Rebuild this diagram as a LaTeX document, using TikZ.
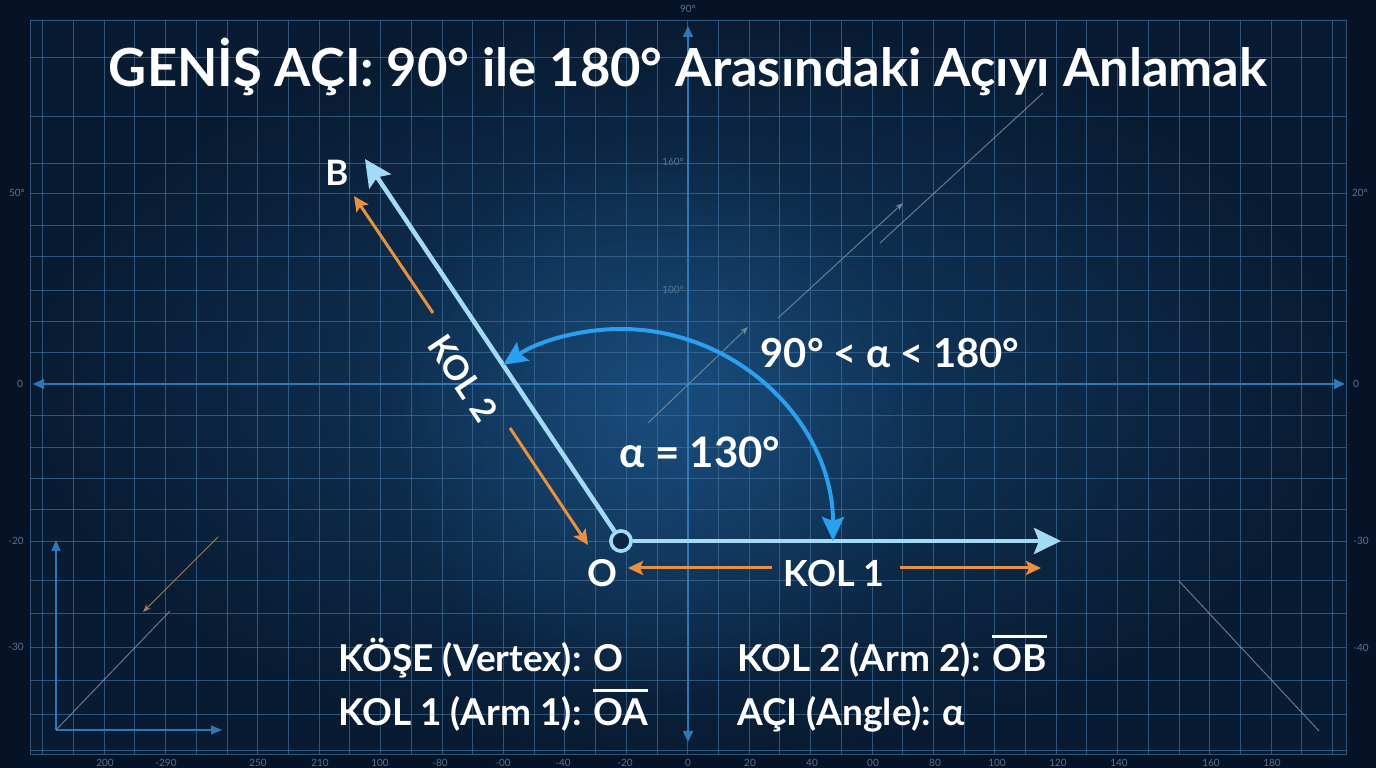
\documentclass[tikz,border=0pt]{standalone}
\usepackage{fontspec}
\setmainfont{Lato}
\usetikzlibrary{arrows.meta,fadings}
\definecolor{bgout}{HTML}{061326}
\definecolor{panelin}{HTML}{133C64}
\definecolor{panelout}{HTML}{081B32}
\definecolor{gridc}{HTML}{3F6F9C}
\definecolor{axisc}{HTML}{2F78B8}
\definecolor{armc}{HTML}{A3DAF5}
\definecolor{arcc}{HTML}{2AA0EE}
\definecolor{orangec}{HTML}{E8913F}
\definecolor{tickc}{HTML}{587590}
\definecolor{decoc}{HTML}{7C90A4}
\definecolor{decob}{HTML}{95806F}
\definecolor{glowc}{HTML}{2468A6}
\definecolor{vfill}{HTML}{0C2644}
\tikzfading[name=glowfade, inner color=transparent!60, outer color=transparent!100]
\newcommand{\ovl}[1]{\leavevmode\vbox{\hrule height 3pt\kern 7pt\hbox{#1}}}
\begin{document}
\begin{tikzpicture}[x=1pt,y=-1pt,shift={(0pt,768pt)},
  gridl/.style={draw=gridc, line width=0.9pt, opacity=0.7},
  axisl/.style={draw=axisc, line width=1.6pt},
  armline/.style={draw=armc, line width=4.5pt, -{Stealth[length=27pt,width=26pt,inset=5pt]}},
  orangel/.style={draw=orangec, line width=3pt, -{Stealth[length=15pt,width=14pt,inset=3pt]}},
  arcline/.style={draw=arcc, line width=4pt, {Stealth[length=24pt,width=22pt,inset=4pt]}-{Stealth[length=24pt,width=22pt,inset=4pt]}},
  decol/.style={draw=decoc, line width=1pt, opacity=0.8},
  ticklbl/.style={text=tickc, font=\fontsize{10}{12}\selectfont, inner sep=0pt},
  lbl/.style={text=white, inner sep=0pt, font=\bfseries\fontsize{#1}{#1}\selectfont},
  lbl/.default=37
]
\useasboundingbox (0,0) rectangle (1376,768);
% background
\fill[bgout] (0,0) rectangle (1376,768);
\shade[inner color=panelin, outer color=panelout] (30,20) rectangle (1346,754);
\fill[glowc, path fading=glowfade] (660,420) circle (280pt);
% grid
\foreach \k in {-21,...,21} \draw[gridl] ({687.7+30.71*\k},20) -- ({687.7+30.71*\k},754);
\foreach \yy in {57,116,163,193,225,256,290,321,352,415,447,478,509,541,580,613,647,680,714,750}
  \draw[gridl] (30,\yy) -- (1346,\yy);
\draw[gridl] (30,20) rectangle (1346,754);
% axes
\coordinate (xl) at (33,384); \coordinate (xr) at (1345,384);
\coordinate (yt) at (688,26); \coordinate (yb) at (688,742);
\draw[axisl, {Triangle[length=11pt,width=10pt]}-{Triangle[length=11pt,width=10pt]}] (xl) -- (xr);
\draw[axisl, {Triangle[length=11pt,width=10pt]}-{Triangle[length=11pt,width=10pt]}] (yt) -- (yb);
% tick labels
\node[ticklbl] (t90) at (688,9) {90°};
\node[ticklbl, anchor=east] (t160) at (684,162) {160°};
\node[ticklbl, anchor=east] (t100) at (684,290) {100°};
\node[ticklbl] (t50) at (17,193) {50°};
\node[ticklbl] (t20) at (1360,193) {20°};
\node[ticklbl] (tl0) at (20,384) {0};
\node[ticklbl] (tr0) at (1356,384) {0};
\node[ticklbl] (tlm20) at (16,541) {-20};
\node[ticklbl] (tlm30) at (16,647) {-30};
\node[ticklbl] (trm30) at (1361,541) {-30};
\node[ticklbl] (trm40) at (1361,648) {-40};
\foreach \xx/\tt in {105/200,166/-290,258/250,320/210,380/100,440/-80,503/-00,563/-40,625/-20,688/0,750/20,812/40,873/00,935/80,997/100,1058/120,1119/140,1211/160,1272/180}
  \node[ticklbl] at (\xx,763) {\tt};
% decorations
\draw[decol] (1043,93) -- (880,243);
\draw[decol, -{Stealth[length=8pt,width=6pt]}] (778,318) -- (903,203);
\draw[decol, -{Stealth[length=8pt,width=6pt]}] (648,423) -- (748,327);
\coordinate (bl0) at (56,730);
\draw[axisl, line width=1.4pt, -{Triangle[length=11pt,width=9pt]}] (bl0) -- (56,540);
\draw[axisl, line width=1.4pt, -{Triangle[length=11pt,width=9pt]}] (bl0) -- (222,730);
\draw[decol] (bl0) -- (170,611);
\draw[draw=decob, line width=1pt, -{Stealth[length=8pt,width=6pt]}] (218,537) -- (143,612);
\draw[decol] (1179,581) -- (1319,731);
% main figure
\coordinate (A) at (1061,541);
\coordinate (B) at (365,159);
\node[circle, draw=armc, line width=3.5pt, fill=vfill, minimum size=20pt, inner sep=0pt] (O) at (621,541) {};
\draw[armline] (O) -- (A);
\draw[armline] (O) -- (B);
\node[circle, draw=armc, line width=3.5pt, fill=vfill, minimum size=20pt, inner sep=0pt] at (621,541) {};
\draw[arcline] (833,541) arc[start angle=0, end angle=123.8, radius=212pt];
% orange arrows
\coordinate (k2a) at (433,313); \coordinate (k2b) at (354,196);
\coordinate (k2c) at (510,428); \coordinate (k2d) at (588,545);
\draw[orangel] (k2a) -- (k2b);
\draw[orangel] (k2c) -- (k2d);
\coordinate (k1a) at (772,568); \coordinate (k1b) at (628,568);
\coordinate (k1c) at (900,568); \coordinate (k1d) at (1041,568);
\draw[orangel] (k1a) -- (k1b);
\draw[orangel] (k1c) -- (k1d);
% labels
\node[lbl=52.5] (title) at (688,67) {GENİŞ AÇI: 90° ile 180° Arasındaki Açıyı Anlamak};
\node[lbl=35] (Bl) at (337,173) {B};
\node[lbl=37] (Ol) at (602,573) {O};
\node[lbl=36] (kol1) at (834,573) {KOL 1};
\node[lbl=34, rotate=-56.2] (kol2) at (463,378) {KOL 2};
\node[lbl=40] (range) at (890,353) {90° < α < 180°};
\node[lbl=42] (alpha) at (700,452) {α = 130°};
% legend
\node[lbl=37, anchor=base west] (lg1) at (338,672) {KÖŞE (Vertex): O};
\node[lbl=37, anchor=base west] (lg2) at (338,726) {KOL 1 (Arm 1): \ovl{OA}};
\node[lbl=37, anchor=base west] (lg3) at (737,672) {KOL 2 (Arm 2): \ovl{OB}};
\node[lbl=37, anchor=base west] (lg4) at (737,726) {AÇI (Angle): α};
\end{tikzpicture}
\end{document}
